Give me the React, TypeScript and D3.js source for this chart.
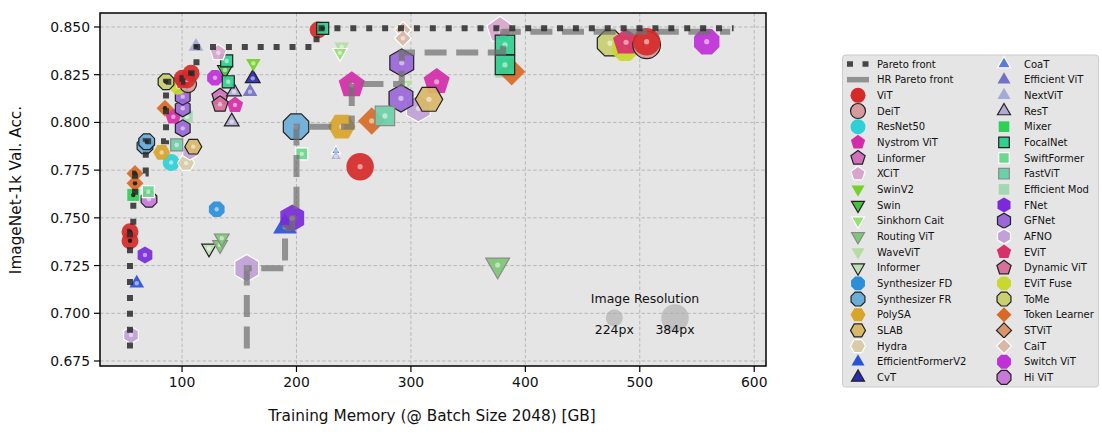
import React from 'react';
import * as d3 from 'd3';

// ---------------- data ----------------
const X_TICKS = [100, 200, 300, 400, 500, 600];
const Y_TICKS = [0.675, 0.7, 0.725, 0.75, 0.775, 0.8, 0.825, 0.85];

const LEGEND_LEFT = ['ViT', 'DeiT', 'ResNet50', 'Nystrom ViT', 'Linformer', 'XCiT', 'SwinV2', 'Swin',
  'Sinkhorn Cait', 'Routing ViT', 'WaveViT', 'Informer', 'Synthesizer FD', 'Synthesizer FR', 'PolySA',
  'SLAB', 'Hydra', 'EfficientFormerV2', 'CvT'];
const LEGEND_RIGHT = ['CoaT', 'Efficient ViT', 'NextViT', 'ResT', 'Mixer', 'FocalNet', 'SwiftFormer',
  'FastViT', 'Efficient Mod', 'FNet', 'GFNet', 'AFNO', 'EViT', 'Dynamic ViT', 'EViT Fuse', 'ToMe',
  'Token Learner', 'STViT', 'CaiT', 'Switch ViT', 'Hi ViT'];

const POINT_MODEL = [
  'AFNO', 'EfficientFormerV2', 'FNet', 'ViT', 'ViT', 'Hi ViT', 'SwiftFormer', 'Mixer', 'Token Learner', 'Token Learner',
  'Synthesizer FD', 'Informer', 'Routing ViT', 'Routing ViT', 'AFNO',
  'ResNet50', 'Hydra', 'PolySA', 'AFNO', 'SLAB', 'FastViT', 'Synthesizer FR', 'Synthesizer FR', 'ResT',
  'Nystrom ViT', 'Efficient Mod', 'GFNet', 'GFNet', 'GFNet', 'Token Learner', 'Nystrom ViT', 'Linformer', 'Dynamic ViT',
  'ResT', 'Efficient ViT', 'CvT', 'SwinV2', 'EViT Fuse', 'DeiT', 'EViT', 'ViT', 'ViT', 'ViT', 'ToMe', 'Switch ViT',
  'Swin', 'FocalNet', 'FocalNet', 'XCiT', 'NextViT',
  'ViT', 'FocalNet', 'WaveViT', 'Sinkhorn Cait', 'CaiT', 'CaiT', 'XCiT', 'Efficient Mod', 'Token Learner',
  'FocalNet', 'FocalNet', 'GFNet', 'Nystrom ViT', 'Nystrom ViT', 'WaveViT', 'AFNO', 'GFNet', 'SLAB',
  'Token Learner', 'FastViT', 'Synthesizer FR', 'PolySA', 'SwiftFormer', 'CoaT', 'NextViT', 'ViT',
  'EfficientFormerV2', 'FNet', 'Routing ViT',
  'ToMe', 'EViT Fuse', 'EViT', 'DeiT', 'ViT', 'Switch ViT',
];
const POINT_MEMORY = [
  55.4, 60.4, 67.6, 54.5, 54.5, 71.1, 70.5, 57.4, 58.9, 58.9,
  130.3, 123.6, 133.2, 134.7, 156.5,
  90.5, 103.5, 82.2, 107.0, 109.8, 95.3, 67.6, 69.1, 143.4,
  92.4, 104.1, 100.6, 100.6, 100.6, 85.1, 146.3, 133.2, 133.2,
  145.4, 159.4, 161.8, 162.3, 96.7, 105.2, 100.6, 100.2, 104.3, 107.9, 86.0, 128.8,
  137.5, 140.4, 139.0, 131.7, 112.2,
  218.9, 222.9, 239.5, 238.0, 293.0, 293.0, 377.8, 382.2, 388.0,
  382.2, 382.2, 292.0, 248.3, 322.5, 295.0, 306.5, 291.3, 315.8,
  265.7, 277.3, 199.6, 239.5, 204.6, 234.5, 234.5, 255.6,
  190.0, 196.3, 375.8,
  474.0, 487.1, 488.0, 506.0, 506.0, 558.5,
];
const POINT_ACC = [
  0.6886, 0.7157, 0.7305, 0.7427, 0.7380, 0.7597, 0.7637, 0.7620, 0.7681, 0.7733,
  0.7545, 0.7340, 0.7358, 0.7393, 0.7236,
  0.7790, 0.7787, 0.7843, 0.7847, 0.7873, 0.7882, 0.7877, 0.7899, 0.8004,
  0.8030, 0.8030, 0.7969, 0.8074, 0.8135, 0.8074, 0.8091, 0.8135, 0.8095,
  0.8161, 0.8161, 0.8231, 0.8310, 0.8187, 0.8201, 0.8217, 0.8231, 0.8222, 0.8257, 0.8213, 0.8234,
  0.8275, 0.8213, 0.8322, 0.8365, 0.8398,
  0.8484, 0.8493, 0.8397, 0.8365, 0.8484, 0.8441, 0.8484, 0.8285, 0.8266,
  0.8406, 0.8301, 0.8313, 0.8196, 0.8213, 0.8196, 0.8074, 0.8126, 0.8121,
  0.8008, 0.8034, 0.7978, 0.7978, 0.7835, 0.7850, 0.7822, 0.7768,
  0.7454, 0.7498, 0.7253,
  0.8415, 0.8388, 0.8420, 0.8406, 0.8423, 0.8423,
];
const POINT_RES = [
  224, 224, 224, 224, 224, 224, 224, 224, 224, 224,
  224, 224, 224, 224, 384,
  224, 224, 224, 224, 224, 224, 224, 224, 224,
  224, 224, 224, 224, 224, 224, 224, 224, 224,
  224, 224, 224, 224, 224, 224, 224, 224, 224, 224, 224, 224,
  224, 224, 224, 224, 224,
  224, 224, 224, 224, 224, 224, 384, 384, 384,
  384, 384, 384, 384, 384, 224, 384, 384, 384,
  384, 384, 384, 384, 224, 160, 160, 384,
  384, 384, 384,
  384, 384, 384, 384, 384, 384,
];
const POINT_ON_FRONT = [
  0, 0, 0, 1, 1, 0, 0, 1, 1, 1,
  0, 0, 0, 0, 0,
  0, 0, 0, 0, 0, 0, 0, 1, 0,
  0, 0, 0, 0, 0, 1, 0, 0, 0,
  0, 0, 0, 0, 0, 0, 0, 1, 0, 1, 1, 0,
  0, 0, 0, 0, 1,
  1, 1, 0, 0, 0, 0, 0, 0, 0,
  0, 0, 0, 0, 0, 0, 0, 0, 0,
  0, 0, 0, 0, 0, 0, 0, 0,
  0, 0, 0,
  0, 0, 0, 0, 0, 0,
];

const PARETO_MEMORY = [54.5, 54.5, 57.4, 57.4, 58.9, 58.9, 68.3, 68.3, 86.0, 86.0, 100.3, 100.3, 107.9, 107.9, 112.6, 112.6, 217.5, 217.5, 582.0];
const PARETO_ACC = [0.6815, 0.7427, 0.7427, 0.7620, 0.7620, 0.7733, 0.7733, 0.7902, 0.7902, 0.8213, 0.8213, 0.8231, 0.8231, 0.8257, 0.8257, 0.8395, 0.8395, 0.8493, 0.8493];

const HR_MEMORY = [156.6, 156.6, 190.0, 190.0, 196.3, 196.3, 200.0, 200.0, 248.3, 248.3, 292.0, 292.0, 380.6, 380.6, 579.0];
const HR_ACC = [0.6815, 0.7236, 0.7236, 0.7445, 0.7445, 0.7498, 0.7498, 0.7977, 0.7977, 0.8201, 0.8201, 0.8367, 0.8367, 0.8475, 0.8475];

const RES_LEGEND = [224, 384];

// ---------------- styles ----------------
type Style = { shape: string; fill: string; edge: string | null };
const STYLE: Record<string, Style> = {
  'ViT': { shape: 'o', fill: '#d62a2a', edge: null },
  'DeiT': { shape: 'o', fill: '#d49c9c', edge: '#222' },
  'ResNet50': { shape: 'o', fill: '#2ed0d8', edge: null },
  'Nystrom ViT': { shape: 'p', fill: '#d42ca8', edge: null },
  'Linformer': { shape: 'p', fill: '#d070bc', edge: '#222' },
  'XCiT': { shape: 'p', fill: '#d8a6cc', edge: '#ffffff' },
  'SwinV2': { shape: 'v', fill: '#74d02a', edge: null },
  'Swin': { shape: 'v', fill: '#48c040', edge: '#222' },
  'Sinkhorn Cait': { shape: 'v', fill: '#96e070', edge: '#ffffff' },
  'Routing ViT': { shape: 'v', fill: '#7cc874', edge: '#8a8a8a' },
  'WaveViT': { shape: 'v', fill: '#b4dca4', edge: null },
  'Informer': { shape: 'v', fill: '#bce0b4', edge: '#222' },
  'Synthesizer FD': { shape: '8', fill: '#2a8fd8', edge: null },
  'Synthesizer FR': { shape: '8', fill: '#6aaed8', edge: '#222' },
  'PolySA': { shape: 'H', fill: '#d8a42a', edge: null },
  'SLAB': { shape: 'H', fill: '#d8b868', edge: '#222' },
  'Hydra': { shape: 'H', fill: '#d8cca8', edge: '#ffffff' },
  'EfficientFormerV2': { shape: '^', fill: '#2a52d8', edge: null },
  'CvT': { shape: '^', fill: '#2a2ab4', edge: '#222' },
  'CoaT': { shape: '^', fill: '#5a7cd8', edge: '#ffffff' },
  'Efficient ViT': { shape: '^', fill: '#7270c4', edge: null },
  'NextViT': { shape: '^', fill: '#a2aad8', edge: null },
  'ResT': { shape: '^', fill: '#b2acd2', edge: '#222' },
  'Mixer': { shape: 's', fill: '#2ed058', edge: null },
  'FocalNet': { shape: 's', fill: '#30d090', edge: '#222' },
  'SwiftFormer': { shape: 's', fill: '#6cd88c', edge: '#ffffff' },
  'FastViT': { shape: 's', fill: '#6cd0a8', edge: '#8a8a8a' },
  'Efficient Mod': { shape: 's', fill: '#a2d8b2', edge: null },
  'FNet': { shape: 'h', fill: '#7a2ad8', edge: null },
  'GFNet': { shape: 'h', fill: '#9a68d8', edge: '#222' },
  'AFNO': { shape: 'h', fill: '#c0a2d8', edge: '#ffffff' },
  'EViT': { shape: 'p', fill: '#d8306a', edge: null },
  'Dynamic ViT': { shape: 'p', fill: '#d8709c', edge: '#222' },
  'EViT Fuse': { shape: '8', fill: '#c8d830', edge: null },
  'ToMe': { shape: '8', fill: '#c8d070', edge: '#222' },
  'Token Learner': { shape: 'D', fill: '#d86a28', edge: null },
  'STViT': { shape: 'D', fill: '#d8946a', edge: '#222' },
  'CaiT': { shape: 'D', fill: '#d8b8a8', edge: '#ffffff' },
  'Switch ViT': { shape: '8', fill: '#c030d8', edge: null },
  'Hi ViT': { shape: '8', fill: '#c878d8', edge: '#222' },
};

const POLY: Record<string, [number, number]> = {
  '^': [3, 0], 'v': [3, 180], 's': [4, 45], 'D': [4, 0], 'p': [5, 0],
  'h': [6, 0], 'H': [6, 30], '8': [8, 22.5],
};

function sizeFor(res: number) {
  return res >= 384 ? 27.5 : res >= 224 ? 17 : 10.5;
}

function polyPath(n: number, rot: number, r: number) {
  const pts: string[] = [];
  for (let k = 0; k < n; k++) {
    const a = ((-90 + rot + (k * 360) / n) * Math.PI) / 180;
    pts.push(`${(r * Math.cos(a)).toFixed(2)},${(r * Math.sin(a)).toFixed(2)}`);
  }
  return 'M' + pts.join('L') + 'Z';
}

function Marker({ model, cx, cy, D, opacity = 0.92 }: { model: string; cx: number; cy: number; D: number; opacity?: number }) {
  const st = STYLE[model];
  const stroke = st.edge ?? 'none';
  const sw = st.edge ? 1.2 : 0;
  if (st.shape === 'o') {
    return <circle cx={cx} cy={cy} r={D / 2} fill={st.fill} fillOpacity={opacity} stroke={stroke} strokeWidth={sw} />;
  }
  const [n, rot] = POLY[st.shape];
  return (
    <path d={polyPath(n, rot, D / 2)} transform={`translate(${cx},${cy})`} fill={st.fill} fillOpacity={opacity}
      stroke={stroke} strokeWidth={sw} strokeLinejoin="miter" />
  );
}

const FONT = 'DejaVu Sans, sans-serif';

export default function App() {
  const L = 100, T = 13, R = 766, B = 366;
  const x = d3.scaleLinear().domain([28.3, 610.3]).range([L, R]);
  const y = d3.scaleLinear().domain([0.67238, 0.85733]).range([B, T]);

  const line = d3.line<[number, number]>().x((d) => x(d[0])).y((d) => y(d[1]));
  const paretoPts = PARETO_MEMORY.map((m, i) => [m, PARETO_ACC[i]] as [number, number]);
  const hrPts = HR_MEMORY.map((m, i) => [m, HR_ACC[i]] as [number, number]);

  const rowH = 15.67;
  const legTop = 64;
  const leftMk = 858, leftTx = 877, rightMk = 1004, rightTx = 1024;

  return (
    <svg width={1102} height={435} style={{ position: 'absolute', left: 0, top: 0, background: '#fff' }} fontFamily={FONT}>
      <defs>
        <clipPath id="plotclip"><rect x={L} y={T} width={R - L} height={B - T} /></clipPath>
      </defs>
      <rect x={L} y={T} width={R - L} height={B - T} fill="#e5e5e5" />
      {/* grid */}
      {X_TICKS.map((t) => (
        <line key={'gx' + t} x1={x(t)} x2={x(t)} y1={T} y2={B} stroke="#b2b2b2" strokeWidth={0.9} strokeDasharray="3.5,2.2" />
      ))}
      {Y_TICKS.map((t) => (
        <line key={'gy' + t} x1={L} x2={R} y1={y(t)} y2={y(t)} stroke="#b2b2b2" strokeWidth={0.9} strokeDasharray="3.5,2.2" />
      ))}
      <g clipPath="url(#plotclip)">
        {POINT_MODEL.map((m, i) => {
          const cx = x(POINT_MEMORY[i]);
          const cy = y(POINT_ACC[i]);
          const D = sizeFor(POINT_RES[i]);
          const front = POINT_ON_FRONT[i] === 1;
          return (
            <g key={'p' + i}>
              <Marker model={m} cx={cx} cy={cy} D={D} />
              <circle cx={cx} cy={cy} r={D > 20 ? 2.6 : 2.2} fill={front ? '#111' : '#ffffff'} fillOpacity={front ? 0.85 : 0.5} />
            </g>
          );
        })}
        <path d={line(hrPts) ?? ''} fill="none" stroke="#707070" strokeOpacity={0.72} strokeWidth={6} strokeDasharray="22,9.6" />
        <path d={line(paretoPts) ?? ''} fill="none" stroke="#2a2a2a" strokeOpacity={0.85} strokeWidth={6} strokeDasharray="6,9.9" />
        {/* image resolution size key */}
        <text x={645} y={302.5} textAnchor="middle" fontSize={12.5} fill="#111">Image Resolution</text>
        {RES_LEGEND.map((r, i) => {
          const cx = i === 0 ? 614.3 : 675;
          return (
            <g key={'rk' + r}>
              <circle cx={cx} cy={318} r={sizeFor(r) / 2} fill="#a8a8a8" fillOpacity={0.6} />
              <text x={cx} y={334} textAnchor="middle" fontSize={12.5} fill="#111">{r}px</text>
            </g>
          );
        })}
      </g>
      {/* frame */}
      <rect x={L} y={T} width={R - L} height={B - T} fill="none" stroke="#000" strokeWidth={1.5} />
      {/* ticks */}
      {X_TICKS.map((t) => (
        <g key={'tx' + t}>
          <line x1={x(t)} x2={x(t)} y1={B} y2={B + 6} stroke="#000" strokeWidth={1.2} />
          <text x={x(t)} y={387} textAnchor="middle" fontSize={13.9} fill="#111">{t}</text>
        </g>
      ))}
      {Y_TICKS.map((t) => (
        <g key={'ty' + t}>
          <line x1={L - 6} x2={L} y1={y(t)} y2={y(t)} stroke="#000" strokeWidth={1.2} />
          <text x={L - 10} y={y(t) + 5} textAnchor="end" fontSize={13.9} fill="#111">{d3.format('.3f')(t)}</text>
        </g>
      ))}
      <text x={432} y={421} textAnchor="middle" fontSize={15.3} fill="#111">Training Memory (@ Batch Size 2048) [GB]</text>
      <text transform={`translate(21,190) rotate(-90)`} textAnchor="middle" fontSize={15.3} fill="#111">ImageNet-1k Val. Acc.</text>

      {/* legend */}
      <rect x={842.5} y={55} width={256} height={332} rx={3} fill="#e5e5e5" stroke="#cccccc" strokeWidth={1} />
      <line x1={847} x2={869} y1={legTop} y2={legTop} stroke="#2a2a2a" strokeOpacity={0.85} strokeWidth={5.5} strokeDasharray="6,9.5" />
      <text x={leftTx} y={legTop + 3.6} fontSize={10} fill="#111">Pareto front</text>
      <line x1={847} x2={869} y1={legTop + rowH} y2={legTop + rowH} stroke="#707070" strokeOpacity={0.72} strokeWidth={5.5} />
      <text x={leftTx} y={legTop + rowH + 3.6} fontSize={10} fill="#111">HR Pareto front</text>
      {LEGEND_LEFT.map((m, i) => {
        const cy = legTop + (i + 2) * rowH;
        return (
          <g key={'ll' + m}>
            <Marker model={m} cx={leftMk} cy={cy} D={15} opacity={1} />
            <text x={leftTx} y={cy + 3.6} fontSize={10} fill="#111">{m}</text>
          </g>
        );
      })}
      {LEGEND_RIGHT.map((m, i) => {
        const cy = legTop + i * rowH;
        return (
          <g key={'lr' + m}>
            <Marker model={m} cx={rightMk} cy={cy} D={15} opacity={1} />
            <text x={rightTx} y={cy + 3.6} fontSize={10} fill="#111">{m}</text>
          </g>
        );
      })}
    </svg>
  );
}
